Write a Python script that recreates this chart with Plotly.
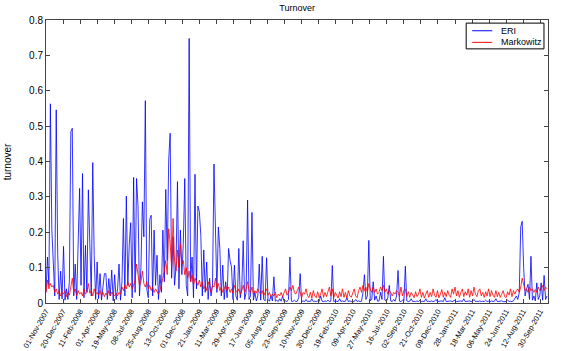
import plotly.graph_objects as go

# sampled every 3rd trading day, starting 01-Nov-2007
eri_part1 = [  # Nov 2007 - Oct 2008
    0.03, 0.13, 0.05, 0.563, 0.208, 0.12, 0.02, 0.546, 0.138, 0.01, 0.09, 0.012,
    0.16, 0.008, 0.04, 0.01, 0.06, 0.484, 0.494, 0.02, 0.11, 0.01, 0.213, 0.324,
    0.05, 0.366, 0.015, 0.163, 0.03, 0.32, 0.168, 0.02, 0.397, 0.135, 0.01, 0.116,
    0.012, 0.083, 0.008, 0.05, 0.083, 0.083, 0.01, 0.069, 0.02, 0.093, 0.006, 0.08,
    0.01, 0.04, 0.11, 0.008, 0.06, 0.239, 0.02, 0.302, 0.05, 0.166, 0.227, 0.015,
    0.355, 0.03, 0.352, 0.274, 0.02, 0.1, 0.286, 0.187, 0.572, 0.04, 0.015, 0.236,
    0.248, 0.02, 0.206, 0.05, 0.135, 0.01, 0.08, 0.03, 0.206, 0.06, 0.321, 0.12,
]
eri_part2 = [  # Oct 2008 - Nov 2009
    0.404, 0.48, 0.07, 0.187, 0.05, 0.1, 0.343, 0.04, 0.206, 0.08, 0.168, 0.352,
    0.05, 0.02, 0.748, 0.06, 0.13, 0.015, 0.364, 0.04, 0.274, 0.258, 0.19, 0.02,
    0.15, 0.03, 0.116, 0.01, 0.07, 0.02, 0.05, 0.393, 0.206, 0.03, 0.215, 0.154,
    0.02, 0.107, 0.01, 0.06, 0.015, 0.154, 0.12, 0.102, 0.01, 0.107, 0.02, 0.008,
    0.154, 0.015, 0.04, 0.176, 0.01, 0.03, 0.291, 0.01, 0.02, 0.256, 0.008, 0.03,
    0.006, 0.02, 0.11, 0.008, 0.132, 0.01, 0.006, 0.128, 0.01, 0.005, 0.02, 0.006,
    0.074, 0.005, 0.008, 0.004, 0.012, 0.005, 0.02, 0.004, 0.006, 0.004, 0.01, 0.13,
]
eri_part3 = [  # Nov 2009 - Nov 2010
    0.005, 0.004, 0.008, 0.004, 0.005, 0.015, 0.083, 0.004, 0.006, 0.004, 0.01, 0.004,
    0.005, 0.004, 0.012, 0.004, 0.005, 0.004, 0.006, 0.004, 0.02, 0.005, 0.004, 0.006,
    0.004, 0.008, 0.004, 0.005, 0.106, 0.004, 0.006, 0.005, 0.004, 0.012, 0.004, 0.006,
    0.004, 0.005, 0.015, 0.004, 0.006, 0.004, 0.005, 0.004, 0.01, 0.004, 0.006, 0.004,
    0.005, 0.03, 0.08, 0.01, 0.02, 0.177, 0.006, 0.01, 0.06, 0.008, 0.02, 0.005,
    0.006, 0.03, 0.01, 0.132, 0.008, 0.005, 0.015, 0.05, 0.006, 0.004, 0.01, 0.005,
    0.02, 0.092, 0.005, 0.004, 0.008, 0.005, 0.104, 0.006, 0.004, 0.005, 0.012, 0.004,
]
eri_part4 = [  # Nov 2010 - Oct 2011
    0.005, 0.004, 0.006, 0.004, 0.008, 0.004, 0.005, 0.004, 0.012, 0.004, 0.005, 0.004,
    0.006, 0.004, 0.005, 0.01, 0.004, 0.005, 0.004, 0.006, 0.004, 0.015, 0.004, 0.005,
    0.004, 0.006, 0.004, 0.005, 0.008, 0.004, 0.005, 0.004, 0.006, 0.004, 0.012, 0.004,
    0.005, 0.004, 0.006, 0.004, 0.005, 0.01, 0.004, 0.005, 0.004, 0.006, 0.004, 0.005,
    0.004, 0.008, 0.004, 0.005, 0.004, 0.006, 0.004, 0.005, 0.012, 0.004, 0.005, 0.004,
    0.006, 0.004, 0.005, 0.004, 0.008, 0.004, 0.005, 0.004, 0.006, 0.015, 0.02, 0.01,
    0.03, 0.215, 0.231, 0.10, 0.02, 0.04, 0.053, 0.01, 0.132, 0.008, 0.02, 0.006,
    0.057, 0.01, 0.02, 0.057, 0.008, 0.078, 0.01, 0.02,
]

mkw_part1 = [
    0.03, 0.065, 0.04, 0.055, 0.045, 0.05, 0.03, 0.04, 0.025, 0.035, 0.02, 0.03,
    0.025, 0.035, 0.018, 0.03, 0.022, 0.05, 0.07, 0.03, 0.04, 0.02, 0.035, 0.025,
    0.03, 0.02, 0.04, 0.025, 0.03, 0.055, 0.028, 0.035, 0.02, 0.04, 0.025, 0.03,
    0.022, 0.035, 0.02, 0.03, 0.018, 0.028, 0.022, 0.035, 0.02, 0.03, 0.025, 0.02,
    0.028, 0.02, 0.03, 0.025, 0.045, 0.035, 0.05, 0.04, 0.06, 0.045, 0.055, 0.04,
    0.05, 0.065, 0.11, 0.07, 0.05, 0.06, 0.09, 0.055, 0.045, 0.06, 0.04, 0.05,
    0.035, 0.045, 0.03, 0.04, 0.03, 0.025, 0.035, 0.05, 0.07, 0.09, 0.12, 0.08,
]
mkw_part2 = [
    0.21, 0.17, 0.1, 0.239, 0.12, 0.09, 0.15, 0.1, 0.168, 0.11, 0.12, 0.08,
    0.1, 0.07, 0.09, 0.06, 0.08, 0.05, 0.07, 0.06, 0.05, 0.065, 0.045, 0.06,
    0.04, 0.05, 0.035, 0.06, 0.04, 0.03, 0.05, 0.045, 0.07, 0.04, 0.055, 0.035,
    0.045, 0.03, 0.04, 0.05, 0.035, 0.045, 0.03, 0.04, 0.028, 0.05, 0.035, 0.03,
    0.04, 0.025, 0.035, 0.05, 0.03, 0.04, 0.06, 0.035, 0.03, 0.045, 0.025, 0.035,
    0.028, 0.04, 0.03, 0.025, 0.035, 0.02, 0.03, 0.04, 0.022, 0.03, 0.018, 0.025,
    0.02, 0.03, 0.015, 0.025, 0.02, 0.03, 0.018, 0.028, 0.04, 0.022, 0.03, 0.045,
]
mkw_part3 = [
    0.035, 0.05, 0.03, 0.025, 0.035, 0.045, 0.03, 0.015, 0.03, 0.025, 0.04, 0.022,
    0.015, 0.03, 0.014, 0.035, 0.02, 0.015, 0.032, 0.015, 0.025, 0.04, 0.016, 0.03,
    0.018, 0.035, 0.045, 0.02, 0.04, 0.015, 0.03, 0.022, 0.014, 0.032, 0.018, 0.04,
    0.016, 0.03, 0.014, 0.035, 0.02, 0.016, 0.032, 0.04, 0.02, 0.015, 0.035, 0.045,
    0.03, 0.05, 0.035, 0.045, 0.03, 0.055, 0.04, 0.03, 0.045, 0.03, 0.04, 0.025,
    0.03, 0.045, 0.035, 0.05, 0.03, 0.04, 0.025, 0.035, 0.03, 0.02, 0.03, 0.025,
    0.035, 0.03, 0.018, 0.045, 0.02, 0.035, 0.04, 0.018, 0.032, 0.016, 0.03, 0.022,
]
mkw_part4 = [
    0.015, 0.032, 0.018, 0.025, 0.04, 0.016, 0.03, 0.014, 0.025, 0.035, 0.016, 0.03,
    0.018, 0.04, 0.022, 0.016, 0.035, 0.015, 0.025, 0.038, 0.016, 0.03, 0.018, 0.035,
    0.022, 0.016, 0.04, 0.025, 0.045, 0.02, 0.035, 0.016, 0.03, 0.04, 0.018, 0.032,
    0.022, 0.04, 0.016, 0.035, 0.02, 0.045, 0.025, 0.018, 0.035, 0.04, 0.02, 0.03,
    0.016, 0.032, 0.02, 0.04, 0.018, 0.035, 0.022, 0.016, 0.035, 0.018, 0.03, 0.016,
    0.025, 0.035, 0.018, 0.015, 0.032, 0.022, 0.04, 0.018, 0.035, 0.025, 0.035, 0.04,
    0.03, 0.045, 0.07, 0.05, 0.035, 0.04, 0.03, 0.045, 0.035, 0.04, 0.03, 0.038,
    0.03, 0.045, 0.035, 0.04, 0.05, 0.035, 0.045, 0.04,
]

date_labels = [
    "01-Nov-2007", "20-Dec-2007", "11-Feb-2008", "01-Apr-2008", "19-May-2008",
    "08-Jul-2008", "25-Aug-2008", "13-Oct-2008", "01-Dec-2008", "21-Jan-2009",
    "11-Mar-2009", "29-Apr-2009", "17-Jun-2009", "05-Aug-2009", "23-Sep-2009",
    "10-Nov-2009", "30-Dec-2009", "19-Feb-2010", "09-Apr-2010", "27-May-2010",
    "16-Jul-2010", "02-Sep-2010", "21-Oct-2010", "09-Dec-2010", "28-Jan-2011",
    "18-Mar-2011", "06-May-2011", "24-Jun-2011", "12-Aug-2011", "30-Sep-2011",
]

eri = eri_part1 + eri_part2 + eri_part3 + eri_part4
mkw = mkw_part1 + mkw_part2 + mkw_part3 + mkw_part4
days = [1 + 3 * i for i in range(len(eri))]
tick_pos = [1 + 35 * k for k in range(len(date_labels))]

series = [("ERI", eri, "blue"), ("Markowitz", mkw, "red")]

fig = go.Figure()
for name, vals, color in series:
    fig.add_trace(go.Scatter(
        x=days, y=vals, mode='lines', name=name, showlegend=False,
        line=dict(color=color, width=0.8)
    ))

# MATLAB-style compact legend box, top right
legend_shapes = [dict(type='rect', xref='paper', yref='paper',
                      x0=0.837, x1=0.992, y0=0.898, y1=0.989,
                      line=dict(color='black', width=1), fillcolor='white')]
legend_notes = []
for k, (name, vals, color) in enumerate(series):
    ly = 0.962 - k * 0.041
    legend_shapes.append(dict(type='line', xref='paper', yref='paper',
                              x0=0.849, x1=0.889, y0=ly, y1=ly,
                              line=dict(color=color, width=1)))
    legend_notes.append(dict(text=name, xref='paper', yref='paper', x=0.902, y=ly,
                             xanchor='left', yanchor='middle', showarrow=False,
                             font=dict(size=9)))

legend_notes.append(dict(text="turnover", xref='paper', yref='paper', x=-0.076, y=0.5,
                         textangle=-90, xanchor='center', yanchor='middle',
                         showarrow=False, font=dict(size=10)))

font = "Liberation Sans, Arial, sans-serif"
fig.update_layout(
    width=568, height=351,
    margin=dict(l=46, r=20, t=20, b=48, autoexpand=False),
    paper_bgcolor='white', plot_bgcolor='white',
    font=dict(family=font, size=9, color='black'),
    title=dict(text="Turnover", x=0.523, xanchor='center', y=0.977, yanchor='middle',
               font=dict(size=9)),
    shapes=legend_shapes,
    annotations=legend_notes,
)
fig.update_xaxes(
    range=[1, 1032], tickvals=tick_pos, ticktext=date_labels, tickangle=-60,
    ticks='inside', ticklen=4, tickcolor='#444', showgrid=False, zeroline=False,
    showline=True, linecolor='#444', linewidth=1, mirror='ticks',
    tickfont=dict(size=7.5), automargin=False
)
fig.update_yaxes(
    range=[0, 0.8], dtick=0.1, ticks='inside', ticklen=4, tickcolor='#444',
    showgrid=False, zeroline=False, showline=True, linecolor='#444', linewidth=1,
    mirror='ticks', tickfont=dict(size=10), automargin=False
)

fig.write_html("out.html", config={'displayModeBar': False},
               post_script="document.body.style.margin='0';")
